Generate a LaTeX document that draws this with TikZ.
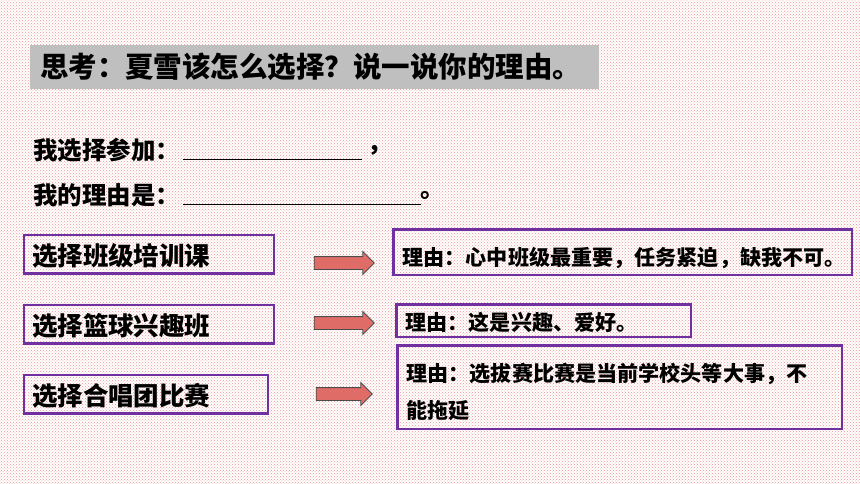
\documentclass[tikz,border=0pt]{standalone}
\usepackage{fontspec}
\setmainfont{Noto Sans CJK SC}[BoldFont={Noto Sans CJK SC Black}]
\usetikzlibrary{positioning,patterns,shapes.arrows}
\definecolor{boxpurple}{RGB}{112,48,160}
\definecolor{arrowred}{RGB}{224,108,104}
\definecolor{dotpink}{RGB}{238,150,150}
\definecolor{titlegray}{RGB}{191,191,191}

\begin{document}
\begin{tikzpicture}[x=1pt, y=-1pt,
						title/.style={rectangle, fill=titlegray, inner xsep=10pt, minimum width=569pt, minimum height=44pt, text width=549pt, align=left, font=\fontsize{28.5}{30}\selectfont\bfseries},
						line/.style={anchor=west, inner sep=0pt, font=\fontsize{24.5}{28}\selectfont\bfseries},
						choice/.style={rectangle, draw=boxpurple, line width=2.5pt, inner xsep=8pt, inner ysep=0pt, minimum height=38.5pt, text height=23.5pt, text depth=0pt, align=left, font=\fontsize{25.5}{28}\selectfont\bfseries},
						reason/.style={rectangle, draw=boxpurple, line width=2.5pt, inner xsep=9pt, inner ysep=0pt, align=left, font=\fontsize{21.1}{37}\selectfont\bfseries},
						fatarrow/.style={single arrow, draw=black!70, fill=arrowred, thick, inner xsep=0pt, inner ysep=6pt, minimum height=60pt, minimum width=22pt, single arrow head extend=5pt}
					]
					\useasboundingbox (0,0) rectangle (860,484);
					\fill[white] (0,0) rectangle (860,484);
					\fill[pattern=crosshatch dots, pattern color=dotpink] (0,0) rectangle (860,484);
					\node[title] (question) at (314.5,67) {思考：夏雪该怎么选择？说一说你的理由。};
					\node[line] (choose) at (33,150) {我选择参加：};
					\node[line] (comma) at (367,150) {，};
					\node[line] (because) at (33,195) {我的理由是：};
					\node[line] (stop) at (420,195) {。};
					\draw[thick] (183,159) -- (362,159);
					\draw[thick] (183,204) -- (421,204);
					\node[choice, minimum width=250pt, text width=234pt] (classA) at (149,254) {选择班级培训课};
					\node[choice, minimum width=250pt, text width=234pt] (classB) at (149,324) {选择篮球兴趣班};
					\node[choice, minimum width=244pt, text width=228pt] (classC) at (146,394) {选择合唱团比赛};
					\node[reason, minimum width=458.5pt, minimum height=45.5pt, text width=440pt, text height=26pt, text depth=0pt] (whyA) at (622.5,252) {理由：心中班级最重要，任务紧迫，缺我不可。};
					\node[reason, minimum width=294.5pt, minimum height=32.5pt, text width=276pt, text height=19pt, text depth=0pt] (whyB) at (543.5,320.5) {理由：这是兴趣、爱好。};
					\node[reason, minimum width=444.5pt, minimum height=83.5pt, text width=426pt] (whyC) at (619.5,387) {\rule{0pt}{27.5pt}理由：选拔赛比赛是当前学校头等大事，不\\能拖延};
					\node[fatarrow] (toA) at (341,263) {};
					\node[fatarrow] (toB) at (341,323) {};
					\node[fatarrow, minimum height=56pt] (toC) at (341,394) {};
					\end{tikzpicture}
\end{document}
